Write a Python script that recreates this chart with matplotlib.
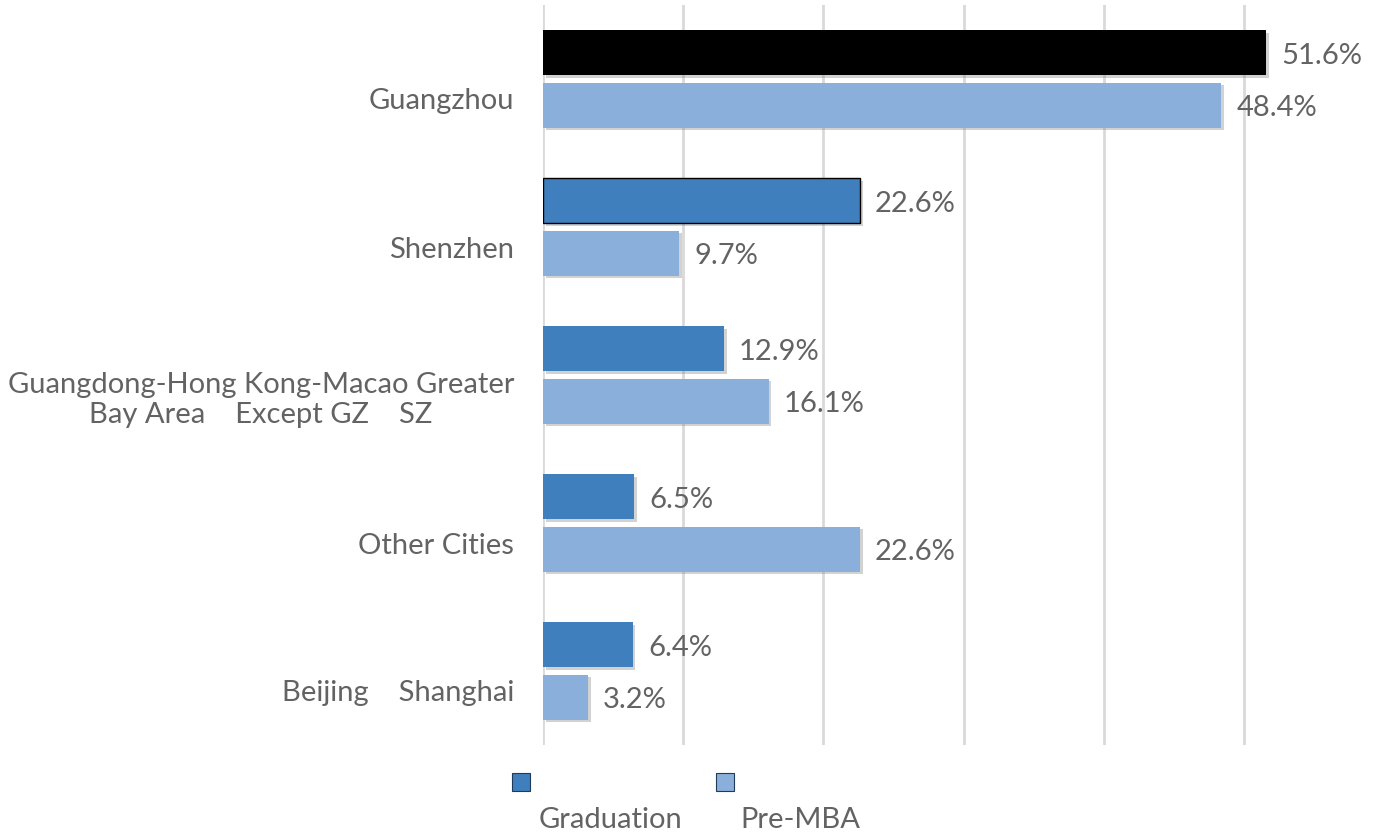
#!/usr/bin/env python3
"""Where MBA students work: pre-MBA vs. graduation, by city."""

import matplotlib

matplotlib.use("Agg")

import matplotlib.pyplot as plt
import matplotlib.patheffects as pe
import numpy as np
from matplotlib.patches import Rectangle
from matplotlib.transforms import ScaledTranslation

# data
cities = [
    "Guangzhou",
    "Shenzhen",
    "Guangdong-Hong Kong-Macao Greater\nBay Area    Except GZ    SZ",
    "Other Cities",
    "Beijing    Shanghai",
]
graduation = [51.6, 22.6, 12.9, 6.5, 6.4]
pre_mba = [48.4, 9.7, 16.1, 22.6, 3.2]
series_names = ["Graduation", "Pre-MBA"]

GRAD_COLOR = "#3F7FBE"
PRE_COLOR = "#8AAFDA"
TEXT_COLOR = "#636363"
GRID_COLOR = "#D9D9D9"
FONT_SIZE = 21
TEXT_KW = dict(fontsize=FONT_SIZE, color=TEXT_COLOR)

plt.rcParams["font.family"] = ["Lato", "DejaVu Sans"]

fig = plt.figure(figsize=(13.81, 8.39), dpi=100)
ax = fig.add_axes([543 / 1381, 1 - 745 / 839, 841 / 1381, 740 / 839])

y = np.arange(len(cities))
bar_h = 0.304
offset = 0.176

shadow = [pe.SimplePatchShadow(offset=(2, -2), shadow_rgbFace="#7F7F7F", alpha=0.35), pe.Normal()]

grad_bars = ax.barh(y - offset, graduation, height=bar_h, color=GRAD_COLOR, zorder=3)
pre_bars = ax.barh(y + offset, pre_mba, height=bar_h, color=PRE_COLOR, zorder=3)

# the Guangzhou graduation bar is rendered black in the source
grad_bars[0].set_facecolor("black")
grad_bars[1].set_edgecolor("black")
grad_bars[1].set_linewidth(1.0)

for bar in list(grad_bars) + list(pre_bars):
    bar.set_path_effects(shadow)

for bars, values in ((grad_bars, graduation), (pre_bars, pre_mba)):
    for bar, val in zip(bars, values):
        ax.annotate(
            f"{val:.1f}%",
            xy=(bar.get_width(), bar.get_y() + bar.get_height() / 2),
            xytext=(11, -2),
            textcoords="offset points",
            ha="left",
            va="center",
            **TEXT_KW,
        )

ax.set_xlim(0, 60)
ax.set_ylim(len(cities) - 0.5, -0.5)
ax.set_xticks(np.arange(0, 60, 10))
ax.set_xticklabels([])
ax.grid(axis="x", color=GRID_COLOR, linewidth=2, zorder=0)
ax.tick_params(axis="both", length=0)
for spine in ax.spines.values():
    spine.set_visible(False)

ax.set_yticks(y)
ax.set_yticklabels(cities, multialignment="center", **TEXT_KW)
shift = ScaledTranslation(-24 / 100, -20 / 100, fig.dpi_scale_trans)
for label in ax.get_yticklabels():
    label.set_transform(label.get_transform() + shift)

# legend: small square above each name
for (sx, tx), name, color in zip(((512, 611), (716, 800)), series_names, (GRAD_COLOR, PRE_COLOR)):
    fig.patches.append(
        Rectangle(
            (sx / 1381, 1 - 791 / 839),
            18 / 1381,
            18 / 839,
            transform=fig.transFigure,
            facecolor=color,
            edgecolor="#1F3A5A",
            linewidth=0.8,
        )
    )
    fig.text(tx / 1381, 1 - 820 / 839, name, ha="center", va="center", **TEXT_KW)

fig.savefig("out.png", dpi=100)
